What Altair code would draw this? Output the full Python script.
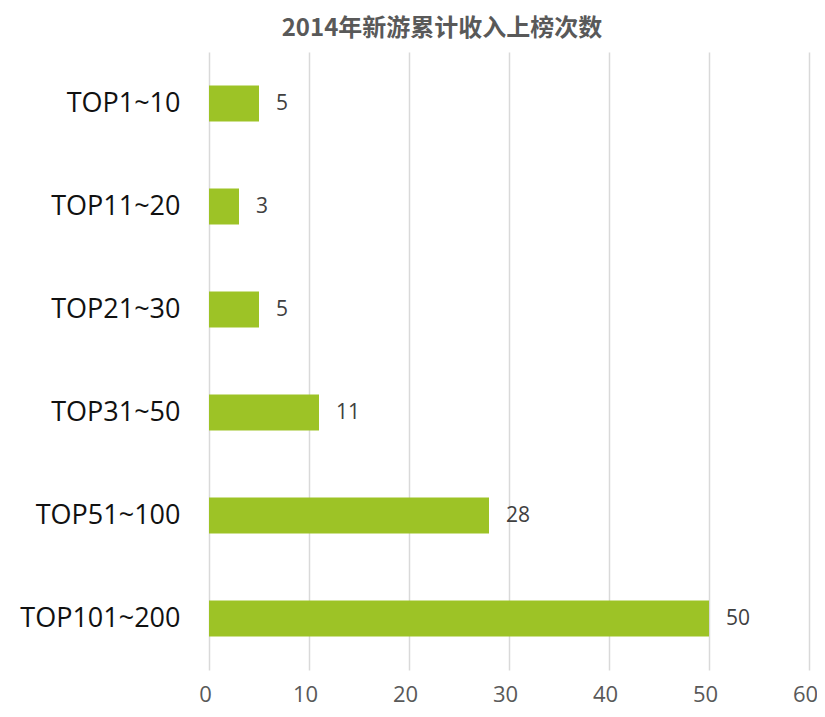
import altair as alt
import pandas as pd

categories = ["TOP1~10", "TOP11~20", "TOP21~30", "TOP31~50", "TOP51~100", "TOP101~200"]
values = [5, 3, 5, 11, 28, 50]
x_ticks = [0, 10, 20, 30, 40, 50, 60]
title_text = "2014年新游累计收入上榜次数"

df = pd.DataFrame({"cat": categories, "val": values})

FONT = "Open Sans"

y_enc = alt.Y("cat:N", sort=categories, title=None,
              scale=alt.Scale(paddingInner=0.65, paddingOuter=0.325),
              axis=alt.Axis(labelFont=FONT, labelFontSize=27, labelColor="#111111",
                            labelPadding=29, ticks=False, domain=False, grid=False))
x_enc = alt.X("val:Q", title=None,
              scale=alt.Scale(domain=[0, 60], nice=False),
              axis=alt.Axis(values=x_ticks, labelFont=FONT, labelFontSize=22,
                            labelColor="#595959", labelPadding=14, labelOffset=-4,
                            labelFlush=False, labelBound=False, ticks=False,
                            domain=False, grid=True, gridColor="#d9d9d9",
                            gridWidth=1.5))

bars = alt.Chart(df).mark_bar(color="#9dc326").encode(x=x_enc, y=y_enc)
labels = alt.Chart(df).mark_text(align="left", dx=17, font=FONT, fontSize=21,
                                 color="#404040").encode(
    x="val:Q", y=alt.Y("cat:N", sort=categories), text="val:Q")

chart = alt.layer(bars, labels).properties(
    width=600, height=618,
    title=alt.Title(title_text, font="Noto Sans CJK SC", fontSize=24,
                    fontWeight="bold", color="#595959", anchor="middle",
                    dx=-67, offset=11),
    autosize=alt.AutoSizeParams(type="none"),
    padding={"left": 201, "top": 44, "right": 8, "bottom": 38},
).configure_view(stroke=None)

chart.save("out.html", embed_options={"renderer": "svg", "actions": False})
